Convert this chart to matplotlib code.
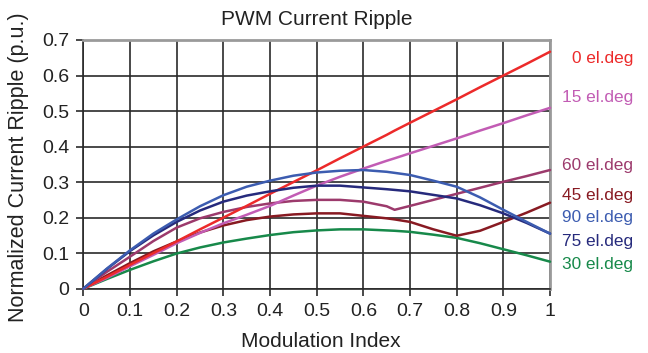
import matplotlib
matplotlib.use("Agg")
import matplotlib.pyplot as plt

plt.rcParams['font.family'] = ['Liberation Sans', 'DejaVu Sans']

mod_index = [0, 0.05, 0.1, 0.15, 0.2, 0.25, 0.3, 0.35, 0.4, 0.45, 0.5, 0.55,
             0.6, 0.65, 0.667, 0.7, 0.75, 0.8, 0.85, 0.9, 0.95, 1.0]

ripple_0 = [0, 0.033, 0.067, 0.1, 0.133, 0.167, 0.2, 0.233, 0.267, 0.3, 0.333, 0.367,
            0.4, 0.433, 0.445, 0.467, 0.5, 0.533, 0.567, 0.6, 0.633, 0.667]
ripple_15 = [0, 0.03, 0.063, 0.095, 0.128, 0.157, 0.184, 0.208, 0.233, 0.262, 0.29, 0.315,
             0.338, 0.36, 0.367, 0.381, 0.402, 0.423, 0.445, 0.466, 0.488, 0.509]
ripple_60 = [0, 0.047, 0.09, 0.134, 0.172, 0.198, 0.216, 0.23, 0.24, 0.247, 0.25, 0.25,
             0.245, 0.232, 0.222, 0.233, 0.25, 0.267, 0.284, 0.301, 0.317, 0.334]
ripple_45 = [0, 0.037, 0.072, 0.105, 0.133, 0.158, 0.178, 0.193, 0.203, 0.209, 0.212, 0.212,
             0.205, 0.198, 0.195, 0.188, 0.167, 0.149, 0.163, 0.188, 0.214, 0.242]
ripple_90 = [0, 0.056, 0.108, 0.155, 0.195, 0.232, 0.263, 0.287, 0.304, 0.318, 0.327, 0.332,
             0.334, 0.329, 0.326, 0.32, 0.304, 0.287, 0.257, 0.222, 0.188, 0.155]
ripple_75 = [0, 0.055, 0.106, 0.15, 0.188, 0.22, 0.245, 0.262, 0.274, 0.284, 0.29, 0.29,
             0.285, 0.28, 0.278, 0.274, 0.264, 0.254, 0.235, 0.212, 0.185, 0.155]
ripple_30 = [0, 0.027, 0.053, 0.077, 0.099, 0.116, 0.13, 0.141, 0.151, 0.159, 0.164, 0.167,
             0.167, 0.164, 0.163, 0.16, 0.152, 0.143, 0.128, 0.111, 0.094, 0.076]

labels = ['0 el.deg', '15 el.deg', '60 el.deg', '45 el.deg', '90 el.deg', '75 el.deg', '30 el.deg']
label_y = [0.649, 0.539, 0.348, 0.263, 0.199, 0.134, 0.067]
series = [ripple_0, ripple_15, ripple_60, ripple_45, ripple_90, ripple_75, ripple_30]
colors = ['#ec2a2a', '#c25cb4', '#9c3a6c', '#881a22', '#3c5cb0', '#262a7c', '#17894a']

xticks = [0, 0.1, 0.2, 0.3, 0.4, 0.5, 0.6, 0.7, 0.8, 0.9, 1.0]
xtick_labels = ['0', '0.1', '0.2', '0.3', '0.4', '0.5', '0.6', '0.7', '0.8', '0.9', '1']
yticks = [0, 0.1, 0.2, 0.3, 0.4, 0.5, 0.6, 0.7]
ytick_labels = ['0', '0.1', '0.2', '0.3', '0.4', '0.5', '0.6', '0.7']

fig = plt.figure(figsize=(6.48, 3.53), dpi=100)
ax = fig.add_axes([0.1286, 0.1822, 0.7202, 0.7045])

ax.set_xlim(0, 1)
ax.set_ylim(0, 0.7)
ax.set_xticks(xticks)
ax.set_xticklabels(xtick_labels)
ax.set_yticks(yticks)
ax.set_yticklabels(ytick_labels)
ax.grid(True, color='#2a2a2a', linewidth=1.2)
ax.set_axisbelow(True)
ax.tick_params(direction='out', length=5, width=1.2, color='#2a2a2a',
               labelsize=14, labelcolor='#222222', pad=5)

for s in ['left', 'bottom']:
    ax.spines[s].set_color('#2a2a2a')
    ax.spines[s].set_linewidth(1.2)
for s in ['top', 'right']:
    ax.spines[s].set_color('#9a9a9a')
    ax.spines[s].set_linewidth(2)

order = [6, 3, 2, 1, 0, 5, 4]
for i in order:
    ax.plot(mod_index, series[i], color=colors[i], linewidth=1.8, solid_capstyle='round',
            clip_on=False, zorder=3)

for lab, yv, c in zip(labels, label_y, colors):
    ax.text(1.178, yv, lab, color=c, fontsize=12.4, ha='right', va='center',
            transform=ax.transData, clip_on=False)

ax.set_title('PWM Current Ripple', fontsize=15, color='#222222', pad=10.5)
ax.set_xlabel('Modulation Index', fontsize=15, color='#222222', va='center')
ax.xaxis.set_label_coords(0.509, -0.213)
ax.set_ylabel('Normalized Current Ripple (p.u.)', fontsize=15.5, color='#222222',
              va='center', ha='center')
ax.yaxis.set_label_coords(-0.138, 0.49)

fig.savefig('out.png', dpi=100)
